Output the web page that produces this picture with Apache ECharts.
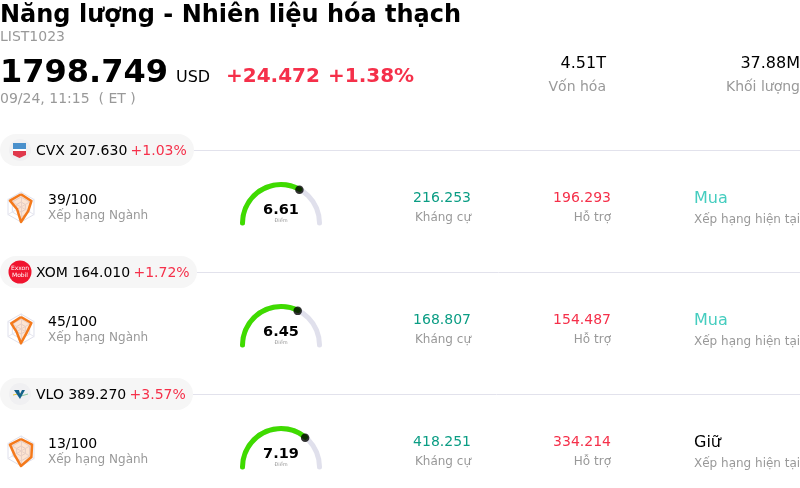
<!DOCTYPE html>
<html lang="vi">
  <head>
    <meta charset="UTF-8" />
    <title>Năng lượng - Nhiên liệu hóa thạch</title>
    <script src="https://cdn.jsdelivr.net/npm/echarts@6/dist/echarts.min.js"></script>
    <style>
      html, body { margin: 0; padding: 0; background: #fff; }
      #main { width: 800px; height: 488px; }
    </style>
  </head>
  <body>
    <div id="main"></div>
    <script>
      // data
      const tickers = ["CVX", "XOM", "VLO"];
      const prices = ["207.630", "164.010", "389.270"];
      const changes = ["+1.03%", "+1.72%", "+3.57%"];
      const industryRanks = ["39/100", "45/100", "13/100"];
      const scores = [6.61, 6.45, 7.19];
      const resistances = ["216.253", "168.807", "418.251"];
      const supports = ["196.293", "154.487", "334.214"];
      const ratings = ["Mua", "Mua", "Giữ"];
      // order: top, upper left, lower left, bottom, lower right, upper right
      const radarValues = [
        [85, 85, 30, 100, 55, 80],
        [80, 75, 35, 95, 45, 80],
        [80, 85, 50, 100, 80, 85],
      ];

      const FONT = '"DejaVu Sans", sans-serif';
      const RED = "#f5304a";
      const GREY = "#999999";
      const LINE = "#e2e2ec";
      const rowTop = [150, 272, 394]; // y of each pill
      const pillWidth = [194, 197, 193];

      function txt(text, x, y, size, fill, align, weight) {
        return {
          type: "text",
          silent: true,
          z: 5,
          style: {
            text: text,
            x: x,
            y: y,
            fill: fill,
            align: align || "left",
            verticalAlign: "middle",
            font: (weight || "normal") + " " + size + "px " + FONT,
          },
        };
      }

      const graphics = [
        txt("Năng lượng - Nhiên liệu hóa thạch", 0, 16, 24, "#000", "left", "bold"),
        txt("LIST1023", 0, 37, 14, GREY),
        txt("1798.749", 0, 74, 32, "#000", "left", "bold"),
        txt("USD", 176, 78, 16, "#000"),
        txt("+24.472", 226, 77, 20, RED, "left", "bold"),
        txt("+1.38%", 328, 77, 20, RED, "left", "bold"),
        txt("09/24, 11:15  ( ET )", 0, 99, 14, GREY),
        txt("4.51T", 606, 64, 16, "#000", "right"),
        txt("Vốn hóa", 606, 87, 14, GREY, "right"),
        txt("37.88M", 800, 64, 16, "#000", "right"),
        txt("Khối lượng", 800, 87, 14, GREY, "right"),
      ];

      // company logos, just small shapes
      function logo(i, y) {
        const items = [];
        if (i === 0) {
          items.push({ type: "circle", shape: { cx: 20, cy: y, r: 11 }, style: { fill: "#f0f0f2" }, z: 3 });
          items.push({ type: "rect", shape: { x: 13, y: y - 7, width: 13, height: 7 }, style: { fill: "#4a90cc" }, z: 4 });
          items.push({ type: "rect", shape: { x: 13, y: y - 1, width: 13, height: 2 }, style: { fill: "#fff" }, z: 4 });
          items.push({ type: "polygon", shape: { points: [[13, y + 1], [26, y + 1], [26, y + 5], [19.5, y + 8], [13, y + 5]] }, style: { fill: "#e0384c" }, z: 4 });
        } else if (i === 1) {
          items.push({ type: "circle", shape: { cx: 20, cy: y, r: 11.5 }, style: { fill: "#f0142f" }, z: 3 });
          items.push({ type: "text", z: 4, style: { text: "Exxon\nMobil", x: 20, y: y, fill: "#fff", align: "center", verticalAlign: "middle", font: "6px " + FONT, lineHeight: 7 } });
        } else {
          items.push({ type: "circle", shape: { cx: 20, cy: y, r: 11 }, style: { fill: "#f0f0f2" }, z: 3 });
          items.push({ type: "polyline", shape: { points: [[13, y + 1], [23, y - 1]] }, style: { stroke: "#e8c840", lineWidth: 1 }, z: 4 });
          items.push({ type: "polyline", shape: { points: [[21, y + 2], [28, y]] }, style: { stroke: "#8ac8a0", lineWidth: 1 }, z: 4 });
          items.push({ type: "polygon", shape: { points: [[14, y - 4], [19, y - 4], [20, y], [22, y - 4], [25, y - 4], [20, y + 5]] }, style: { fill: "#14628c" }, z: 5 });
        }
        return items;
      }

      tickers.forEach((t, i) => {
        const y = rowTop[i];
        const d = rowTop[i] - rowTop[0];
        graphics.push({
          type: "line",
          silent: true,
          shape: { x1: pillWidth[i], y1: y + 0.5, x2: 800, y2: y + 0.5 },
          style: { stroke: LINE, lineWidth: 1 },
        });
        graphics.push({
          type: "rect",
          silent: true,
          z: 2,
          shape: { x: 0, y: y - 16, width: pillWidth[i], height: 32, r: 16 },
          style: { fill: "#f6f6f6" },
        });
        graphics.push(...logo(i, y));
        graphics.push({
          type: "text",
          silent: true,
          z: 5,
          style: {
            text: "{a|" + t + " " + prices[i] + "} {b|" + changes[i] + "}",
            x: 36,
            y: y + 1,
            verticalAlign: "middle",
            rich: {
              a: { fill: "#000", font: "14px " + FONT },
              b: { fill: RED, font: "14px " + FONT },
            },
          },
        });
        graphics.push(txt(industryRanks[i], 48, 200 + d, 14, "#000"));
        graphics.push(txt("Xếp hạng Ngành", 48, 216 + d, 12, GREY));
        graphics.push(txt(resistances[i], 471, 198 + d, 14, "#0b9d84", "right"));
        graphics.push(txt("Kháng cự", 471, 218 + d, 12, GREY, "right"));
        graphics.push(txt(supports[i], 611, 198 + d, 14, RED, "right"));
        graphics.push(txt("Hỗ trợ", 611, 218 + d, 12, GREY, "right"));
        graphics.push(txt(ratings[i], 694, 199 + d, 16, ratings[i] === "Mua" ? "#45cdbf" : "#000"));
        graphics.push(txt("Xếp hạng hiện tại", 694, 220 + d, 12, GREY));
      });

      const gaugeCenters = tickers.map((t, i) => [281, 223 + (rowTop[i] - rowTop[0])]);
      const radarCenters = tickers.map((t, i) => [21, 207 + (rowTop[i] - rowTop[0])]);

      const option = {
        animation: false,
        backgroundColor: "#fff",
        graphic: graphics,
        polar: gaugeCenters.map((c) => ({ center: c, radius: 40 })),
        angleAxis: gaugeCenters.map((c, i) => ({
          polarIndex: i,
          type: "value",
          min: 0,
          max: 10,
          startAngle: 180,
          endAngle: 0,
          clockwise: true,
          show: false,
        })),
        radiusAxis: gaugeCenters.map((c, i) => ({
          polarIndex: i,
          type: "value",
          min: 0,
          max: 40,
          show: false,
        })),
        radar: radarCenters.map((c) => ({
          center: c,
          radius: 15,
          startAngle: 90,
          splitNumber: 3,
          indicator: [0, 1, 2, 3, 4, 5].map(() => ({ min: 0, max: 100 })),
          axisName: { show: false },
          axisLine: { lineStyle: { color: "#e6e6f0", width: 1 } },
          splitLine: { lineStyle: { color: "#dfe0ec", width: 1 } },
          splitArea: { show: false },
        })),
        series: [
          ...radarValues.map((v, i) => ({
            type: "radar",
            radarIndex: i,
            symbol: "none",
            silent: true,
            lineStyle: { color: "#f47a1c", width: 2.5 },
            areaStyle: { color: "#f47a1c", opacity: 0.2 },
            data: [{ value: v }],
          })),
          ...scores.map((s, i) => ({
            type: "gauge",
            center: gaugeCenters[i],
            radius: 41,
            startAngle: 180,
            endAngle: 0,
            min: 0,
            max: 10,
            silent: true,
            pointer: { show: false },
            axisTick: { show: false },
            splitLine: { show: false },
            axisLabel: { show: false },
            axisLine: { roundCap: true, lineStyle: { width: 5, color: [[1, "#e0e0ec"]] } },
            progress: { show: true, roundCap: true, width: 5, itemStyle: { color: "#3fdb00" } },
            title: { offsetCenter: [0, -2], fontSize: 5, color: GREY, fontFamily: FONT },
            detail: {
              offsetCenter: [0, -13],
              fontSize: 14.5,
              fontWeight: "bold",
              color: "#000",
              fontFamily: FONT,
              formatter: (val) => val.toFixed(2),
            },
            data: [{ value: s, name: "Điểm" }],
          })),
          ...scores.map((s, i) => ({
            type: "scatter",
            coordinateSystem: "polar",
            polarIndex: i,
            symbolSize: 8.5,
            silent: true,
            z: 6,
            itemStyle: { color: "#000" },
            data: [[38, s]],
          })),
        ],
      };

      const chart = echarts.init(document.getElementById("main"), null, { renderer: "canvas" });
      chart.setOption(option);
    </script>
  </body>
</html>
